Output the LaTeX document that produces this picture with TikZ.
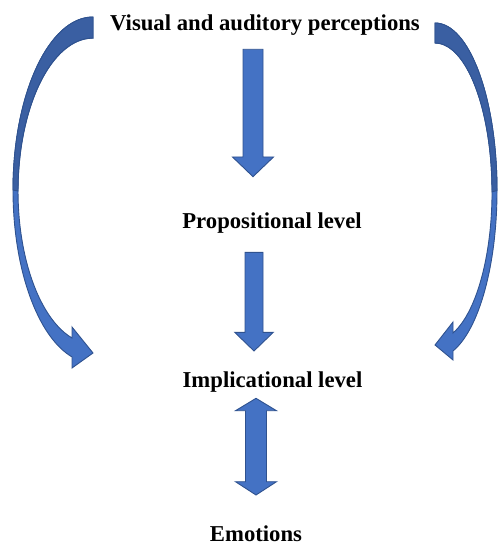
\documentclass[tikz,border=0pt]{standalone}
\usepackage{fontspec}
\setmainfont{Liberation Serif}
\definecolor{arrfill}{HTML}{4472C4}
\definecolor{arrdark}{HTML}{3A5FA2}
\definecolor{arrline}{HTML}{2F528F}
\begin{document}
\begin{tikzpicture}[x=1pt,y=1pt,
  lbl/.style={font=\fontsize{22.7}{27}\selectfont\bfseries, inner sep=0pt, anchor=base},
  blockarrow/.style={fill=arrfill, draw=arrline, line width=0.9pt, line join=miter},
  backpart/.style={fill=arrdark, draw=arrline, line width=0.9pt, line join=miter}]
\useasboundingbox (0,0) rectangle (497,-545);

% labels
\node[lbl] (vis)  at (265,-31)   {Visual and auditory perceptions};
\node[lbl] (prop) at (272,-228)  {Propositional level};
\node[lbl] (impl) at (272.5,-387){Implicational level};
\node[lbl] (emo)  at (256,-541.5){Emotions};

% straight arrow: perceptions -> propositional
\draw[blockarrow] (243,-49.3) -- (263,-49.3) -- (263,-157) -- (273.5,-157)
  -- (253,-176.7) -- (232.5,-157) -- (243,-157) -- cycle;

% straight arrow: propositional -> implicational
\draw[blockarrow] (245,-252.3) -- (263,-252.3) -- (263,-332.3) -- (273.3,-332.3)
  -- (254,-351) -- (234.7,-332.3) -- (245,-332.3) -- cycle;

% double arrow: implicational <-> emotions
\draw[blockarrow] (256,-398.3) -- (276.5,-410.7) -- (266.5,-410.7) -- (266.5,-481.7)
  -- (276.5,-481.7) -- (256,-495) -- (235.5,-481.7) -- (245.5,-481.7)
  -- (245.5,-410.7) -- (235.5,-410.7) -- cycle;

% left curved arrow
\draw[blockarrow] (93,-17) arc[start angle=90, end angle=254.8, x radius=80, y radius=173]
  -- (72,-368) -- (93,-353) -- (72,-327) -- (72,-338)
  arc[start angle=253.7, end angle=90, x radius=75, y radius=153] -- cycle;
\draw[backpart] (93,-17) arc[start angle=90, end angle=180, x radius=80, y radius=173]
  -- (18,-191) arc[start angle=180, end angle=90, x radius=75, y radius=153] -- cycle;

% right curved arrow
\draw[blockarrow] (435,-23) arc[start angle=90, end angle=-73.1, x radius=62, y radius=167.6]
  -- (453,-360) -- (435,-345) -- (453,-322) -- (453,-333)
  arc[start angle=-71.6, end angle=90, x radius=57, y radius=148.8] -- cycle;
\draw[backpart] (435,-23) arc[start angle=90, end angle=0, x radius=62, y radius=167.6]
  -- (492,-191.8) arc[start angle=0, end angle=90, x radius=57, y radius=148.8] -- cycle;
\end{tikzpicture}
\end{document}
